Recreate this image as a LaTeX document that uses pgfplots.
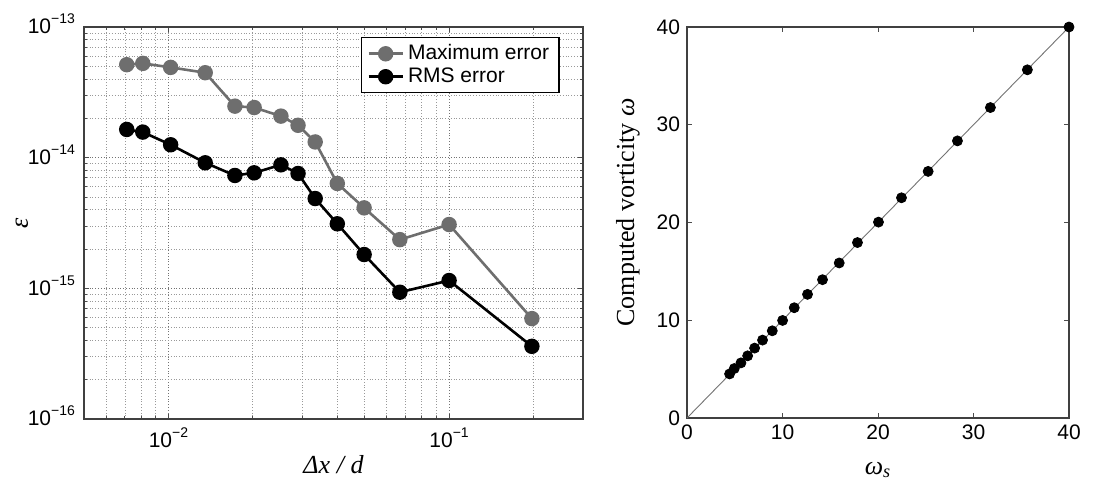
\documentclass[border=0pt]{standalone}
\usepackage{pgfplots}
\pgfplotsset{compat=1.18}
\usepackage{fontspec}
\setmainfont{Liberation Sans}
\newfontfamily\serif{Liberation Serif}
\newcommand{\tenexp}[1]{10\raisebox{0.9ex}{\fontsize{7}{7}\selectfont −#1}}
\definecolor{maxgray}{HTML}{6E6E6E}
\begin{document}
\begin{tikzpicture}
\useasboundingbox (0,0) rectangle (546.5pt,244pt);
\begin{axis}[
  at={(42pt,34.5pt)}, anchor=south west,
  scale only axis, width=249.5pt, height=196pt,
  xmode=log, ymode=log,
  xmin=0.005, xmax=0.3, ymin=1e-16, ymax=1e-13,
  xtick={0.01,0.1}, xticklabels={\tenexp{2},\tenexp{1}},
  ytick={1e-16,1e-15,1e-14,1e-13},
  yticklabels={\tenexp{16},\tenexp{15},\tenexp{14},\tenexp{13}},
  minor xtick={0.006,0.007,0.008,0.009,0.02,0.03,0.04,0.05,0.06,0.07,0.08,0.09,0.2},
  minor ytick={2e-16,3e-16,4e-16,5e-16,6e-16,7e-16,8e-16,9e-16,
               2e-15,3e-15,4e-15,5e-15,6e-15,7e-15,8e-15,9e-15,
               2e-14,3e-14,4e-14,5e-14,6e-14,7e-14,8e-14,9e-14},
  grid=both,
  major grid style={densely dotted, black!55, line width=0.5pt},
  minor grid style={densely dotted, black!40, line width=0.45pt},
  tick align=inside, major tick length=2.5pt, minor tick length=1.5pt,
  tick style={black!70, line width=0.5pt},
  axis line style={line width=0.8pt, black!75},
  ticklabel style={font=\fontsize{10.5}{11}\selectfont},
  xticklabel style={yshift=-1pt},
  yticklabel style={yshift=1.5pt, xshift=-1pt},
  xlabel={{\serif\itshape Δx / d}},
  ylabel={{\serif\itshape ε}},
  label style={font=\fontsize{13}{14}\selectfont},
  xlabel style={at={([yshift=-23pt]axis description cs:0.5,0)}, anchor=center},
  ylabel style={at={([xshift=-31pt]axis description cs:0,0.5)}, anchor=center},
  legend style={at={(0.9537,0.9746)}, anchor=north east, draw=black, line width=0.7pt,
    font=\fontsize{10.5}{11}\selectfont, inner xsep=3pt, inner ysep=1.5pt, row sep=-1.5pt,
    cells={anchor=west}},
  legend cell align=left,
]
\addplot[maxgray, line width=1.3pt, mark=*, mark size=3.2pt, mark options={fill=maxgray, draw=maxgray}]
coordinates {
(0.00710,5.15e-14) (0.00810,5.27e-14) (0.01018,4.91e-14) (0.01352,4.47e-14)
(0.01725,2.48e-14) (0.02020,2.42e-14) (0.02516,2.08e-14) (0.02896,1.77e-14)
(0.03333,1.32e-14) (0.03997,6.35e-15) (0.04980,4.13e-15) (0.06675,2.36e-15)
(0.1,3.08e-15) (0.1973,5.87e-16)
};
\addlegendentry{Maximum error}
\addplot[black, line width=1.3pt, mark=*, mark size=3.2pt, mark options={fill=black, draw=black}]
coordinates {
(0.00710,1.645e-14) (0.00810,1.57e-14) (0.01018,1.256e-14) (0.01352,9.14e-15)
(0.01725,7.31e-15) (0.02020,7.66e-15) (0.02516,8.82e-15) (0.02896,7.57e-15)
(0.03333,4.87e-15) (0.03997,3.12e-15) (0.04980,1.815e-15) (0.06675,9.34e-16)
(0.1,1.148e-15) (0.1973,3.60e-16)
};
\addlegendentry{RMS error}
\end{axis}
\begin{axis}[
  at={(343.5pt,35pt)}, anchor=south west,
  scale only axis, width=191pt, height=195.5pt,
  xmin=0, xmax=40, ymin=0, ymax=40,
  xtick={0,10,20,30,40}, ytick={0,10,20,30,40},
  /pgf/number format/assume math mode=true,
  tick align=inside, major tick length=2.5pt,
  tick style={black!70, line width=0.5pt},
  axis line style={line width=0.8pt, black!75},
  ticklabel style={font=\fontsize{10.5}{11}\selectfont},
  xlabel={{\serif\itshape ω\textsubscript{s}}},
  ylabel={{\serif Computed vorticity \itshape ω}},
  label style={font=\fontsize{13}{14}\selectfont},
  xlabel style={at={([yshift=-26pt]axis description cs:0.5,0)}, anchor=center},
  ylabel style={at={([xshift=-29.5pt,yshift=5pt]axis description cs:0,0.5)}, anchor=center},
]
\addplot[black!55, line width=0.45pt] coordinates {(0,0) (40,40)};
\addplot[only marks, black, mark=*, mark size=2.5pt] coordinates {
(4.46,4.51) (4.95,5.06) (5.65,5.64) (6.35,6.36) (7.08,7.15) (7.91,7.97)
(8.93,8.92) (10.01,9.98) (11.23,11.28) (12.62,12.65) (14.19,14.15) (15.94,15.86)
(17.85,17.95) (20.05,20.04) (22.46,22.53) (25.25,25.23) (28.32,28.35) (31.77,31.76)
(35.64,35.62) (40,40)
};
\end{axis}
\end{tikzpicture}
\end{document}
